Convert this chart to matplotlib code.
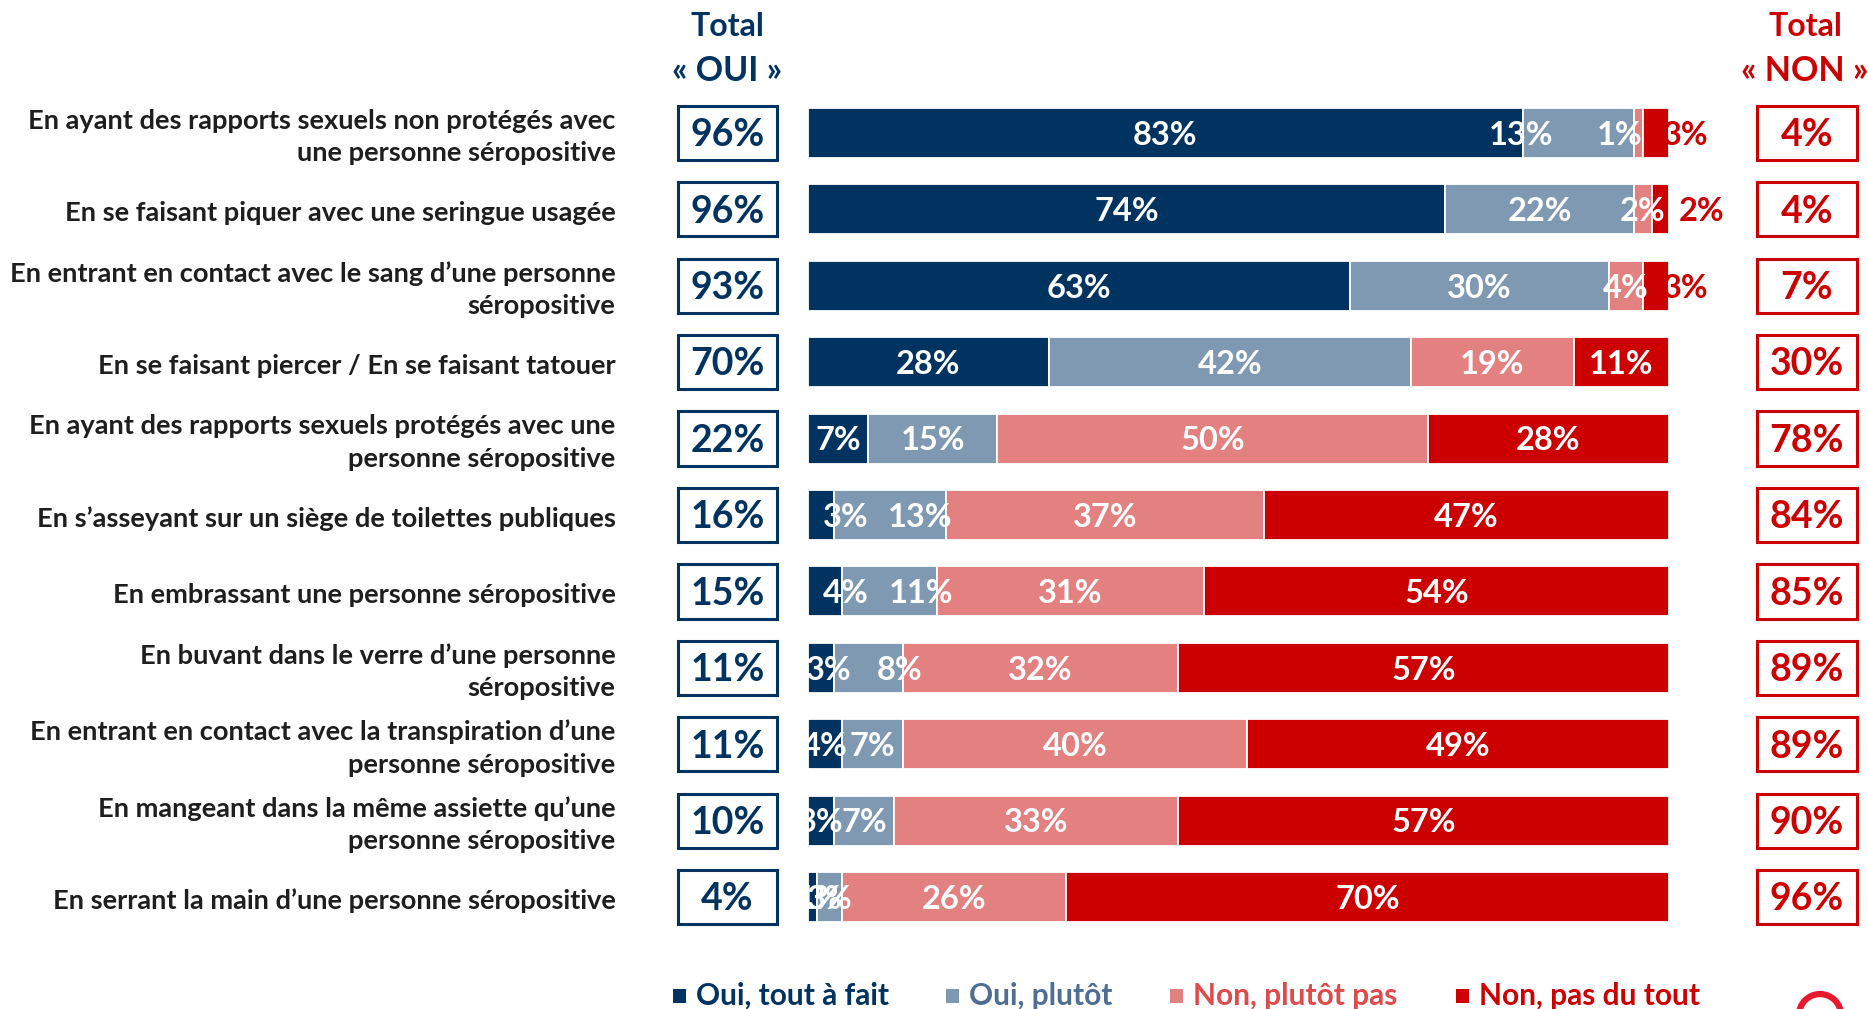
import matplotlib
matplotlib.use('Agg')
import matplotlib.pyplot as plt
from matplotlib.patches import Rectangle, Ellipse
from matplotlib.transforms import blended_transform_factory
import numpy as np

plt.rcParams['font.family'] = ['Lato', 'DejaVu Sans']

# ---------------- data ----------------
categories = [
    "En ayant des rapports sexuels non protégés avec\nune personne séropositive",
    "En se faisant piquer avec une seringue usagée",
    "En entrant en contact avec le sang d\u2019une personne\nséropositive",
    "En se faisant piercer / En se faisant tatouer",
    "En ayant des rapports sexuels protégés avec une\npersonne séropositive",
    "En s\u2019asseyant sur un siège de toilettes publiques",
    "En embrassant une personne séropositive",
    "En buvant dans le verre d\u2019une personne\nséropositive",
    "En entrant en contact avec la transpiration d\u2019une\npersonne séropositive",
    "En mangeant dans la même assiette qu\u2019une\npersonne séropositive",
    "En serrant la main d\u2019une personne séropositive",
]
oui_tout_a_fait = [83, 74, 63, 28, 7, 3, 4, 3, 4, 3, 1]
oui_plutot      = [13, 22, 30, 42, 15, 13, 11, 8, 7, 7, 3]
non_plutot_pas  = [1, 2, 4, 19, 50, 37, 31, 32, 40, 33, 26]
non_pas_du_tout = [3, 2, 3, 11, 28, 47, 54, 57, 49, 57, 70]
total_oui = [96, 96, 93, 70, 22, 16, 15, 11, 11, 10, 4]
total_non = [4, 4, 7, 30, 78, 84, 85, 89, 89, 90, 96]
series_names = ["Oui, tout à fait", "Oui, plutôt", "Non, plutôt pas", "Non, pas du tout"]

# ---------------- style ----------------
NAVY = '#00335F'
GREYBLUE = '#7F99B3'
PINK = '#E38080'
RED = '#CC0000'
seg_colors = [NAVY, GREYBLUE, PINK, RED]
legend_text_colors = [NAVY, '#4F6E94', '#DE4B4B', RED]
TEXT = '#1E1E1E'

# label nudges (in % units) for crowded small segments
label_nudge = {(0, 1): -6.7, (0, 2): -2.2, (5, 0): 2.9, (5, 1): 3.5,
               (6, 0): 2.4, (6, 1): 3.6, (7, 0): 0.9, (7, 1): 3.6, (10, 0): 0.9}
# last-segment labels drawn outside the bar (x position in % units)
outside_label_x = {0: 102.0, 1: 103.8, 2: 102.0}

fig = plt.figure(figsize=(18.68, 10.09), dpi=100)
ax = fig.add_axes([0.4325, 0.0731, 0.4609, 0.833])
ax.set_xlim(0, 100)
ax.set_ylim(len(categories) - 0.5, -0.5)
ax.axis('off')

y = np.arange(len(categories))
series = [oui_tout_a_fait, oui_plutot, non_plutot_pas, non_pas_du_tout]
left = np.zeros(len(categories))
for s_idx, vals in enumerate(series):
    vals = np.array(vals, dtype=float)
    ax.barh(y, vals, left=left, height=0.655, color=seg_colors[s_idx],
            edgecolor='white', linewidth=1.3, zorder=2)
    for i, v in enumerate(vals):
        cx = left[i] + v / 2 + label_nudge.get((i, s_idx), 0)
        color = 'white'
        if s_idx == 3 and i in outside_label_x:
            cx = outside_label_x[i]
            color = RED
        ax.text(cx, i + 0.03, f"{int(v)}%", ha='center', va='center',
                color=color, fontsize=23.5, fontweight='bold', zorder=3)
    left += vals

trans = blended_transform_factory(fig.transFigure, ax.transData)

# category labels
for i, cat in enumerate(categories):
    ax.text(0.3295, i + 0.05, cat, transform=trans, ha='right', va='center',
            color=TEXT, fontsize=19.6, fontweight='bold', linespacing=1.42)

# total boxes
box_h = 0.71
for i in range(len(categories)):
    ax.add_patch(Rectangle((0.3627, i - box_h / 2), 0.0535, box_h, transform=trans,
                           fill=False, edgecolor=NAVY, linewidth=2.2, clip_on=False))
    ax.text(0.3895, i + 0.03, f"{total_oui[i]}%", transform=trans, ha='center',
            va='center', color=NAVY, fontsize=27, fontweight='bold')
    ax.add_patch(Rectangle((0.9405, i - box_h / 2), 0.0535, box_h, transform=trans,
                           fill=False, edgecolor=RED, linewidth=2.2, clip_on=False))
    ax.text(0.9672, i + 0.03, f"{total_non[i]}%", transform=trans, ha='center',
            va='center', color=RED, fontsize=27, fontweight='bold')

# headers
for xh, col, word in [(0.3892, NAVY, "OUI"), (0.9663, RED, "NON")]:
    fig.text(xh, 0.974, "Total", ha='center', va='center', color=col,
             fontsize=23, fontweight='bold')
    fig.text(xh, 0.930, f"\u00ab {word} \u00bb", ha='center', va='center', color=col,
             fontsize=24.5, fontweight='bold')

# legend
leg_sq_x = [0.3603, 0.5063, 0.6263, 0.7794]
leg_y = 1 - 996 / 1009
for k, name in enumerate(series_names):
    fig.patches.append(Rectangle((leg_sq_x[k], leg_y - 0.0069), 0.0069, 0.0139,
                                 transform=fig.transFigure, facecolor=seg_colors[k],
                                 edgecolor='none'))
    fig.text(leg_sq_x[k] + 0.0125, leg_y, name, ha='left', va='center',
             color=legend_text_colors[k], fontsize=21.5, fontweight='bold')

# partial logo ring at bottom right
fig.patches.append(Ellipse((0.9743, -0.006), 0.0225, 0.0416, transform=fig.transFigure,
                           fill=False, edgecolor='#E8192C', linewidth=4.5))

fig.savefig('out.png', dpi=100)
